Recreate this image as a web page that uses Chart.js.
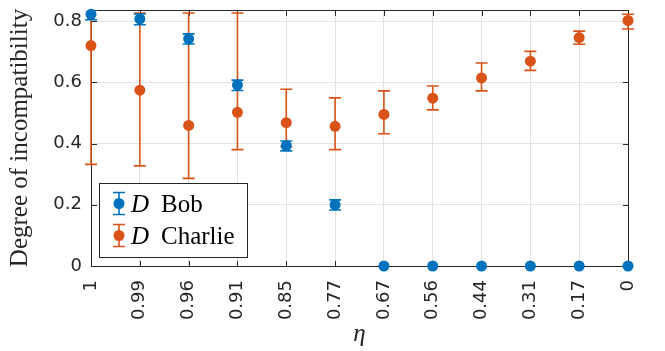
<!DOCTYPE html>
<html>
<head>
<meta charset="utf-8">
<script src="https://cdn.jsdelivr.net/npm/chart.js@4/dist/chart.umd.min.js"></script>
<style>
  html, body { margin: 0; padding: 0; background: #fff; }
  #wrap { width: 665px; height: 351px; }
</style>
</head>
<body>
<div id="wrap"><canvas id="incChart" width="665" height="351"></canvas></div>
<script>
// Data
const etaLabels = ['1', '0.99', '0.96', '0.91', '0.85', '0.77', '0.67', '0.56', '0.44', '0.31', '0.17', '0'];

const bobValues = [0.822, 0.807, 0.742, 0.591, 0.393, 0.200, 0, 0, 0, 0, 0, 0];
const bobLow    = [0.804, 0.788, 0.725, 0.573, 0.376, 0.183, 0, 0, 0, 0, 0, 0];
const bobHigh   = [0.838, 0.823, 0.758, 0.607, 0.408, 0.216, 0, 0, 0, 0, 0, 0];

const charlieValues = [0.720, 0.574, 0.459, 0.502, 0.468, 0.456, 0.495, 0.548, 0.614, 0.669, 0.746, 0.802];
const charlieLow    = [0.332, 0.327, 0.286, 0.380, 0.390, 0.380, 0.432, 0.510, 0.572, 0.639, 0.724, 0.774];
const charlieHigh   = [1.100, 0.826, 0.826, 0.826, 0.577, 0.549, 0.572, 0.588, 0.663, 0.701, 0.767, 0.822];

const yTicks = [0, 0.2, 0.4, 0.6, 0.8];
const yMax = 0.836;

const BLUE = '#0072BD';
const ORANGE = '#D95319';
const AXIS = '#262626';
const GRID = '#e3e3e3';

// error bars drawn under each dataset's markers
const errorBars = {
  id: 'errorBars',
  beforeDatasetDraw(chart, args) {
    const ds = chart.data.datasets[args.index];
    if (!ds.lows) return;
    const ctx = chart.ctx;
    const y = chart.scales.y;
    const area = chart.chartArea;
    ctx.save();
    ctx.beginPath();
    ctx.rect(0, area.top, chart.width, area.bottom - area.top);
    ctx.clip();
    ctx.strokeStyle = ds.backgroundColor;
    ctx.lineWidth = 1.6;
    args.meta.data.forEach((pt, i) => {
      if (ds.lows[i] === ds.highs[i]) return;
      const x = pt.x;
      const yl = y.getPixelForValue(ds.lows[i]);
      const yh = y.getPixelForValue(ds.highs[i]);
      ctx.beginPath();
      ctx.moveTo(x, yl); ctx.lineTo(x, yh);
      ctx.moveTo(x - 6, yl); ctx.lineTo(x + 6, yl);
      ctx.moveTo(x - 6, yh); ctx.lineTo(x + 6, yh);
      ctx.stroke();
    });
    ctx.restore();
  }
};

// box on top/right plus inward ticks
const axesBox = {
  id: 'axesBox',
  beforeDatasetsDraw(chart) {
    const ctx = chart.ctx;
    const { left, right, top, bottom } = chart.chartArea;
    const xs = chart.scales.x, ys = chart.scales.y;
    const L = Math.round(left) + 0.5, R = Math.round(right) + 0.5;
    const T = Math.round(top) + 0.5, B = Math.round(bottom) + 0.5;
    ctx.save();
    ctx.strokeStyle = AXIS;
    ctx.lineWidth = 1;
    ctx.beginPath();
    ctx.moveTo(L, T); ctx.lineTo(R, T); ctx.lineTo(R, B);
    etaLabels.forEach((_, i) => {
      const x = Math.round(xs.getPixelForValue(i)) + 0.5;
      ctx.moveTo(x, B); ctx.lineTo(x, B - 5.5);
      ctx.moveTo(x, T); ctx.lineTo(x, T + 5.5);
    });
    yTicks.forEach(v => {
      const yy = Math.round(ys.getPixelForValue(v)) + 0.5;
      ctx.moveTo(L, yy); ctx.lineTo(L + 5.5, yy);
      ctx.moveTo(R, yy); ctx.lineTo(R - 5.5, yy);
    });
    ctx.stroke();
    ctx.restore();
  }
};

// legend box in the lower left of the axes
const legendBox = {
  id: 'legendBox',
  afterDraw(chart) {
    const ctx = chart.ctx;
    const entries = [
      { name: 'Bob', color: BLUE, y: 203.5 },
      { name: 'Charlie', color: ORANGE, y: 235.5 }
    ];
    ctx.save();
    ctx.fillStyle = '#fff';
    ctx.fillRect(99.5, 183.5, 148, 74);
    ctx.strokeStyle = AXIS;
    ctx.lineWidth = 1;
    ctx.strokeRect(99.5, 183.5, 148, 74);
    entries.forEach(e => {
      const x = 119;
      ctx.strokeStyle = e.color;
      ctx.lineWidth = 1.6;
      ctx.beginPath();
      ctx.moveTo(x, e.y - 11); ctx.lineTo(x, e.y + 11);
      ctx.moveTo(x - 6, e.y - 11); ctx.lineTo(x + 6, e.y - 11);
      ctx.moveTo(x - 6, e.y + 11); ctx.lineTo(x + 6, e.y + 11);
      ctx.stroke();
      ctx.fillStyle = e.color;
      ctx.beginPath();
      ctx.arc(x, e.y, 5.5, 0, Math.PI * 2);
      ctx.fill();
      ctx.fillStyle = '#000';
      ctx.textBaseline = 'alphabetic';
      ctx.textAlign = 'left';
      ctx.font = 'italic 25px "Liberation Serif"';
      ctx.fillText('D', 131, e.y + 8.5);
      ctx.font = '25px "Liberation Serif"';
      ctx.fillText(e.name, 161, e.y + 8.5);
    });
    ctx.restore();
  }
};

const chart = new Chart(document.getElementById('incChart'), {
  type: 'line',
  data: {
    labels: etaLabels,
    datasets: [
      {
        label: 'D Bob',
        data: bobValues,
        lows: bobLow,
        highs: bobHigh,
        backgroundColor: BLUE,
        borderColor: BLUE,
        showLine: false,
        pointRadius: 5.5,
        pointBorderWidth: 0,
        pointBackgroundColor: BLUE,
        clip: false,
        order: 0
      },
      {
        label: 'D Charlie',
        data: charlieValues,
        lows: charlieLow,
        highs: charlieHigh,
        backgroundColor: ORANGE,
        borderColor: ORANGE,
        showLine: false,
        pointRadius: 5.5,
        pointBorderWidth: 0,
        pointBackgroundColor: ORANGE,
        clip: false,
        order: 1
      }
    ]
  },
  options: {
    responsive: false,
    animation: false,
    events: [],
    devicePixelRatio: 1,
    layout: { padding: { left: 0, top: 10, right: 37, bottom: 0 } },
    plugins: {
      legend: { display: false },
      tooltip: { enabled: false }
    },
    scales: {
      x: {
        type: 'category',
        offset: false,
        grid: { color: GRID, drawTicks: false },
        border: { color: AXIS, width: 1 },
        ticks: {
          autoSkip: false,
          minRotation: 90,
          maxRotation: 90,
          padding: 14,
          color: AXIS,
          font: { family: '"DejaVu Sans"', size: 18 }
        },
        title: {
          display: true,
          text: 'η',
          color: AXIS,
          padding: { top: 0, bottom: 2 },
          font: { family: '"Liberation Serif"', size: 25, style: 'italic' }
        },
        afterFit(scale) {
          scale.height = 85;
          scale.paddingLeft = 0;
          scale.paddingRight = 0;
        }
      },
      y: {
        min: 0,
        max: yMax,
        grid: { color: GRID, drawTicks: false },
        border: { color: AXIS, width: 1 },
        ticks: {
          padding: 9,
          color: AXIS,
          font: { family: '"DejaVu Sans"', size: 18 }
        },
        afterBuildTicks(scale) {
          scale.ticks = yTicks.map(v => ({ value: v }));
        },
        title: {
          display: true,
          text: 'Degree of incompatibility',
          color: AXIS,
          padding: { top: 5, bottom: 0 },
          font: { family: '"Liberation Serif"', size: 25 }
        },
        afterFit(scale) {
          scale.width = 91;
          scale.paddingTop = 0;
          scale.paddingBottom = 0;
        }
      }
    }
  },
  plugins: [errorBars, axesBox, legendBox]
});
</script>
</body>
</html>
